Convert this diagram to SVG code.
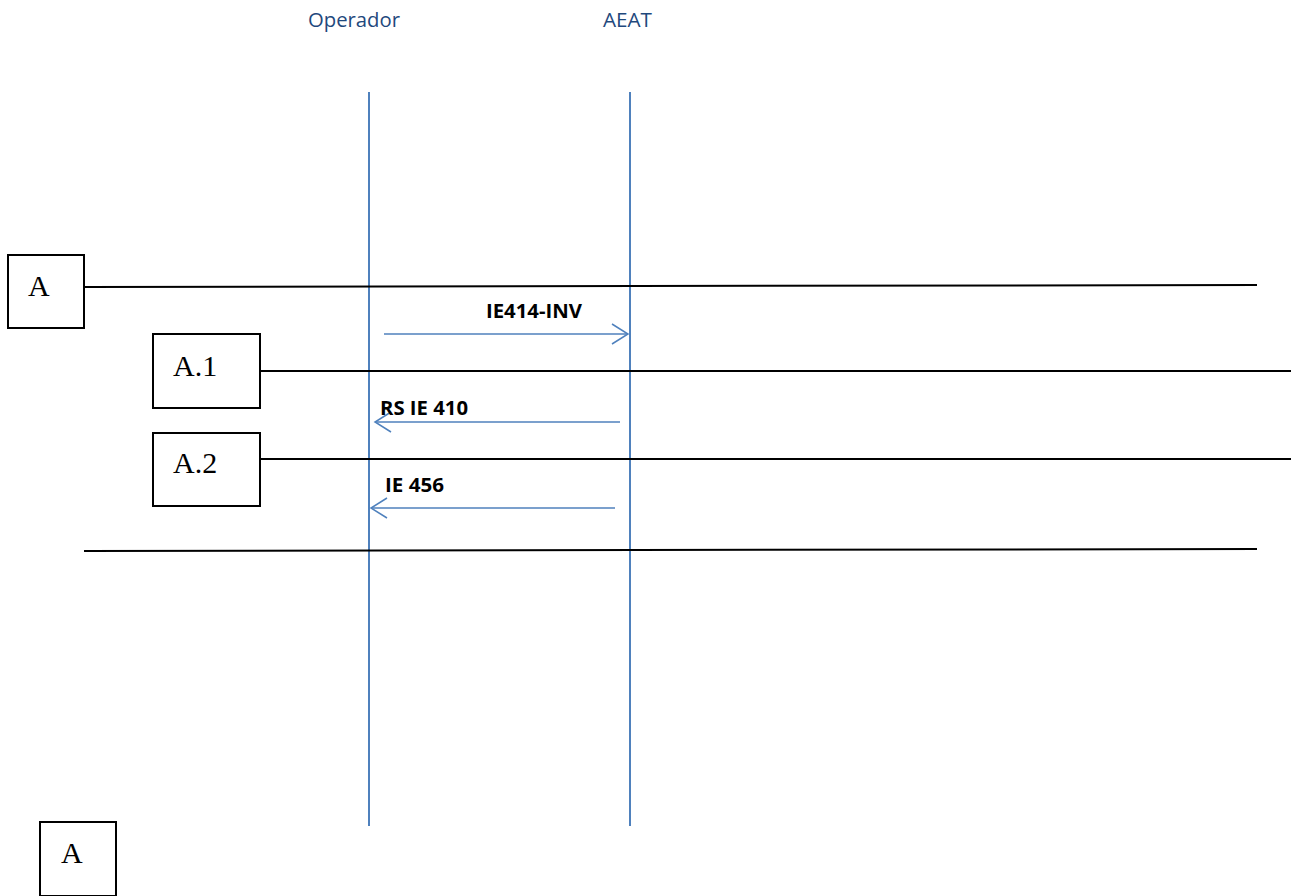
<svg xmlns="http://www.w3.org/2000/svg" width="1291" height="896" viewBox="0 0 1291 896">
<style>
.box{fill:#fff;stroke:#000;stroke-width:2}
.bl{stroke:#000;stroke-width:2;fill:none}
.life{stroke:#4F81BD;stroke-width:2;fill:none}
.msg{stroke:#4F81BD;stroke-width:1.5;fill:none}
.hdr{font-family:"Open Sans","Liberation Sans",sans-serif;font-size:20px;fill:#1F497D}
.lbl{font-family:"Open Sans","Liberation Sans",sans-serif;font-size:20px;font-weight:bold;fill:#000}
.sf{font-family:"Liberation Serif","DejaVu Serif",serif;font-size:30px;fill:#000}
</style>
<rect width="1291" height="896" fill="#fff"/>
<g id="headers">
<text class="hdr" x="308" y="27" textLength="92" lengthAdjust="spacingAndGlyphs">Operador</text>
<text class="hdr" x="603" y="27" textLength="49" lengthAdjust="spacingAndGlyphs">AEAT</text>
</g>
<g id="connectors">
<line class="life" x1="369" y1="92" x2="369" y2="826"/>
<line class="life" x1="630" y1="92" x2="630" y2="826"/>
<line class="bl" x1="84" y1="287" x2="1257" y2="285"/>
<line class="bl" x1="260" y1="371" x2="1291" y2="371"/>
<line class="bl" x1="260" y1="459" x2="1291" y2="459"/>
<line class="bl" x1="84" y1="551" x2="1257" y2="549"/>
<line class="msg" x1="384" y1="334" x2="628" y2="334"/>
<polyline class="msg" points="612,324 628,334 612,344"/>
<line class="msg" x1="620" y1="422" x2="375" y2="422"/>
<polyline class="msg" points="391,412 375,422 391,432"/>
<line class="msg" x1="615" y1="508" x2="371" y2="508"/>
<polyline class="msg" points="387,498 371,508 387,518"/>
</g>
<g id="labels">
<text class="lbl" x="486" y="318" textLength="96" lengthAdjust="spacingAndGlyphs">IE414-INV</text>
<text class="lbl" x="380" y="415" textLength="88" lengthAdjust="spacingAndGlyphs">RS IE 410</text>
<text class="lbl" x="385" y="492" textLength="59" lengthAdjust="spacingAndGlyphs">IE 456</text>
</g>
<g id="nodeA">
<rect class="box" x="8" y="255" width="76" height="73"/>
<text class="sf" x="28" y="296">A</text>
</g>
<g id="nodeA1">
<rect class="box" x="153" y="334" width="107" height="74"/>
<text class="sf" x="173" y="376">A.1</text>
</g>
<g id="nodeA2">
<rect class="box" x="153" y="433" width="107" height="73"/>
<text class="sf" x="173" y="473">A.2</text>
</g>
<g id="nodeAbottom">
<rect class="box" x="40" y="822" width="76" height="74"/>
<text class="sf" x="61" y="863">A</text>
</g>
</svg>
